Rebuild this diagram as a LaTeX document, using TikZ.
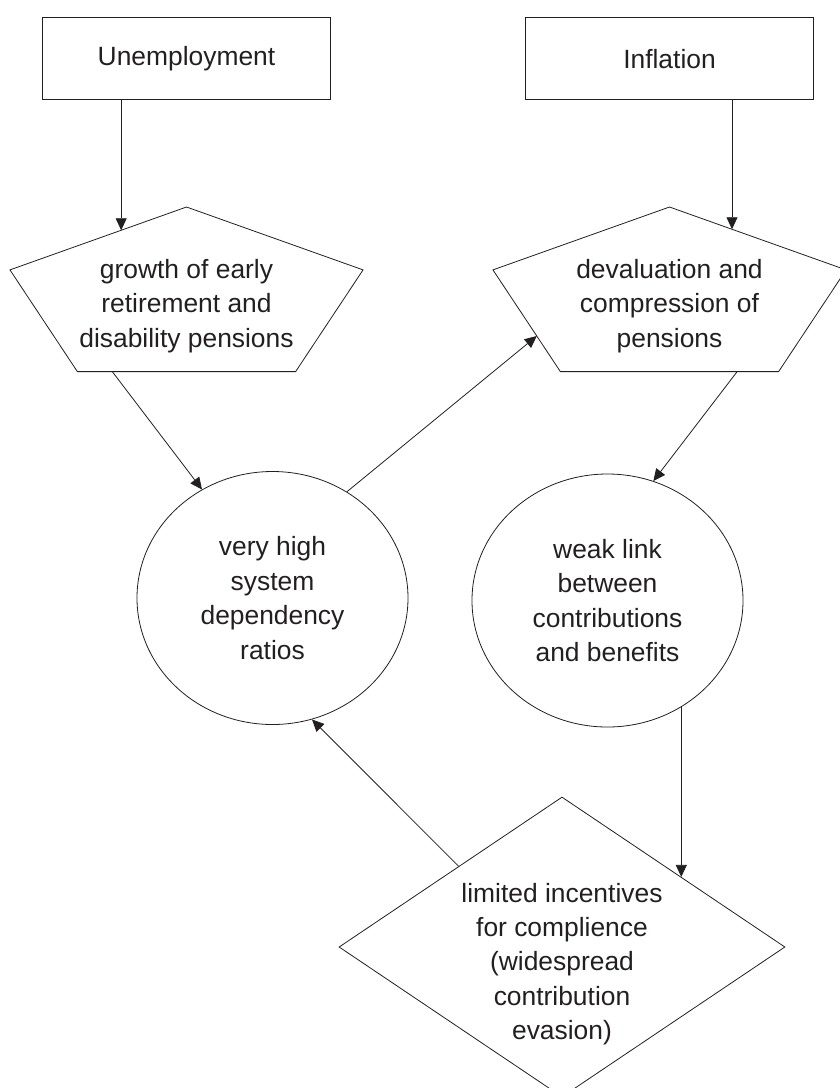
\documentclass[tikz,border=0pt]{standalone}
\usepackage{fontspec}
\setmainfont{Liberation Sans}
\usetikzlibrary{positioning,shapes.geometric,arrows.meta,calc}
\definecolor{ink}{RGB}{35,31,32}

\begin{document}
\begin{tikzpicture}[
  x=1pt, y=-1pt,
  every node/.style={font=\fontsize{26.4}{34.4}\selectfont, text=ink},
  box/.style={draw=ink, line width=0.8pt, rectangle, minimum width=288pt, minimum height=82pt, inner sep=0pt},
  pent/.style={draw=ink, line width=0.8pt, regular polygon, regular polygon sides=5, minimum size=182pt, inner sep=0pt, outer sep=0pt, xscale=2.04, transform shape},
  blob/.style={draw=ink, line width=0.8pt, ellipse, minimum width=271pt, minimum height=253pt, inner sep=0pt, align=center},
  gem/.style={draw=ink, line width=0.8pt, diamond, aspect=1.49, minimum width=446pt, minimum height=300pt, inner sep=0pt},
  txt/.style={align=center, inner sep=0pt},
  arr/.style={draw=ink, line width=0.8pt, -{Triangle[length=12pt, width=11pt]}}
]
  \useasboundingbox (0,0) rectangle (839,1088);

  % Nodes
  \node[pent] (growth) at (186.5,298) {};
  \node[pent] (deval) at (669.5,298) {};
  \node[box, above=107pt of growth] (unemp) {Unemployment};
  \node[box, above=107pt of deval] (infl) {Inflation};
  \node[txt] (growth-txt) at ([yshift=-8pt]growth.center) {growth of early\\retirement and\\disability pensions};
  \node[txt] (deval-txt) at ([yshift=-8pt]deval.center) {devaluation and\\compression of\\pensions};
  \node[blob] (depend) at (272.5,598) {very high\\system\\dependency\\ratios};
  \node[blob] (weak) at (607.5,600.5) {weak link\\between\\contributions\\and benefits};
  \node[gem] (limit) at (562,947) {};
  \node[txt] (limit-txt) at ([yshift=-17pt]limit.center) {limited incentives\\for complience\\(widespread\\contribution\\evasion)};

  % Arrow ends on the polygon sides
  \coordinate (growth-in) at ($(growth.corner 2)!0.63!(growth.corner 1)$);
  \coordinate (deval-in) at ($(deval.corner 1)!0.354!(deval.corner 5)$);
  \coordinate (growth-out) at ($(growth.corner 3)!0.16!(growth.corner 4)$);
  \coordinate (deval-side) at ($(deval.corner 2)!0.65!(deval.corner 3)$);
  \coordinate (deval-out) at ($(deval.corner 3)!0.81!(deval.corner 4)$);
  \coordinate (limit-in) at ($(limit.north)!0.534!(limit.east)$);

  % Arrows
  \draw[arr] (unemp.south -| growth-in) -- (growth-in);
  \draw[arr] (infl.south -| deval-in) -- (deval-in);
  \draw[arr] (growth-out) -- (depend.123);
  \draw[arr] (depend.55) -- (deval-side);
  \draw[arr] (deval-out) -- (weak.69);
  \draw[arr] (limit-in |- weak.-55) -- (limit-in);
  \draw[arr] (limit.142) -- (depend.-72);
\end{tikzpicture}
\end{document}
